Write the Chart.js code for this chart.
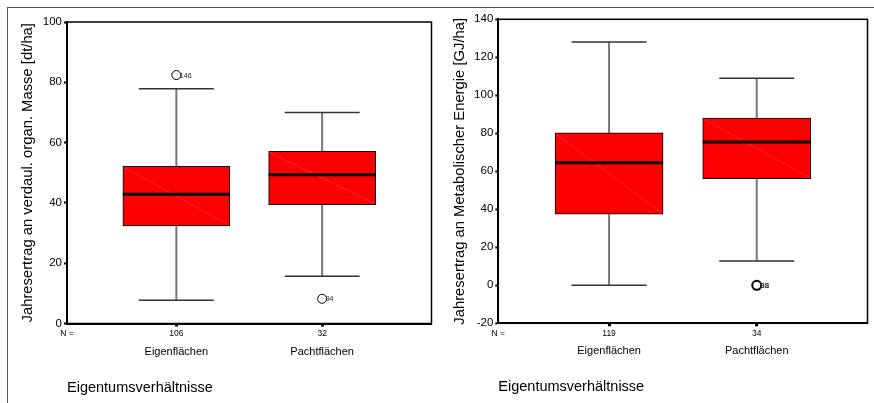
<!DOCTYPE html>
<html>
<head>
<meta charset="utf-8">
<script src="https://cdn.jsdelivr.net/npm/chart.js@4/dist/chart.umd.min.js"></script>
<style>
body{margin:0;background:#fff;}
#wrap{position:relative;width:874px;height:403px;overflow:hidden;}
#rahmen{position:absolute;left:7px;top:7px;width:900px;height:420px;border-top:1px solid #555;border-left:1px solid #555;}
canvas{position:absolute;top:0;}
</style>
</head>
<body>
<div id="wrap">
<div id="rahmen"></div>
<canvas id="graficaMasse" width="437" height="403" style="left:0"></canvas>
<canvas id="graficaEnergie" width="437" height="403" style="left:437px"></canvas>
</div>
<script>
var categorias = ['Eigenflächen', 'Pachtflächen'];

// Jahresertrag an verdaul. organ. Masse [dt/ha]
var masseN = [106, 32];
var masseMin = [7.7, 15.7];
var masseQ1 = [32.4, 39.4];
var masseMedian = [42.9, 49.3];
var masseQ3 = [52.1, 57.1];
var masseMax = [77.9, 70.0];
var masseAusreisserCat = [0, 1];
var masseAusreisserWert = [82.4, 8.2];
var masseAusreisserFall = ['146', '94'];

// Jahresertrag an Metabolischer Energie [GJ/ha]
var energieN = [119, 34];
var energieMin = [0, 12.8];
var energieQ1 = [37.4, 56.1];
var energieMedian = [64.5, 75.4];
var energieQ3 = [80.2, 88.0];
var energieMax = [128, 109];
var energieAusreisserCat = [1];
var energieAusreisserWert = [0];
var energieAusreisserFall = ['88'];

var fuente = 'Liberation Sans, Arial, sans-serif';

var boxplotLineas = {
  id: 'boxplotLineas',
  beforeDatasetsDraw: function(chart, args, o) {
    var ctx = chart.ctx, x = chart.scales.x, y = chart.scales.y;
    ctx.save();
    for (var i = 0; i < o.median.length; i++) {
      var px = x.getPixelForValue(i);
      ctx.strokeStyle = '#777';
      ctx.lineWidth = 2;
      ctx.beginPath();
      ctx.moveTo(px, y.getPixelForValue(o.q3[i]));
      ctx.lineTo(px, y.getPixelForValue(o.max[i]));
      ctx.moveTo(px, y.getPixelForValue(o.q1[i]));
      ctx.lineTo(px, y.getPixelForValue(o.min[i]));
      ctx.stroke();
      ctx.strokeStyle = '#333';
      ctx.lineWidth = 1.5;
      ctx.beginPath();
      ctx.moveTo(px - o.cap / 2, y.getPixelForValue(o.max[i]));
      ctx.lineTo(px + o.cap / 2, y.getPixelForValue(o.max[i]));
      ctx.moveTo(px - o.cap / 2, y.getPixelForValue(o.min[i]));
      ctx.lineTo(px + o.cap / 2, y.getPixelForValue(o.min[i]));
      ctx.stroke();
    }
    ctx.restore();
  },
  afterDatasetsDraw: function(chart, args, o) {
    var ctx = chart.ctx, x = chart.scales.x, y = chart.scales.y;
    var area = chart.chartArea;
    var cajas = chart.getDatasetMeta(0).data;
    ctx.save();
    for (var i = 0; i < cajas.length; i++) {
      var c = cajas[i].getProps(['x', 'y', 'base', 'width'], true);
      var l = c.x - c.width / 2, r = c.x + c.width / 2;
      // faint diagonal
      ctx.strokeStyle = 'rgba(255,150,150,0.55)';
      ctx.lineWidth = 0.5;
      ctx.beginPath();
      ctx.moveTo(l + 1, c.y + 1);
      ctx.lineTo(r - 1, c.base - 1);
      ctx.stroke();
      // median
      var my = y.getPixelForValue(o.median[i]);
      ctx.strokeStyle = '#000';
      ctx.lineWidth = 3;
      ctx.beginPath();
      ctx.moveTo(l, my);
      ctx.lineTo(r, my);
      ctx.stroke();
    }
    // outlier labels
    ctx.fillStyle = '#222';
    ctx.textBaseline = 'middle';
    ctx.textAlign = 'left';
    for (var j = 0; j < o.fall.length; j++) {
      ctx.font = (o.fettig ? 'bold 8px ' : '7px ') + fuente;
      ctx.fillText(o.fall[j], x.getPixelForValue(o.fallCat[j]) + 3.5, y.getPixelForValue(o.fallWert[j]) + 0.5);
    }
    // frame of the plot
    ctx.strokeStyle = '#000';
    ctx.lineWidth = 1.5;
    ctx.strokeRect(area.left, area.top, area.right - area.left, area.bottom - area.top);
    // N = and category names
    ctx.fillStyle = '#000';
    ctx.textAlign = 'center';
    ctx.font = '8.5px ' + fuente;
    ctx.fillText('N =', area.left, area.bottom + 10.5);
    ctx.font = '11px ' + fuente;
    for (var k = 0; k < categorias.length; k++) {
      ctx.fillText(categorias[k], x.getPixelForValue(k), area.bottom + 28);
    }
    ctx.restore();
  }
};

function crearBoxplot(canvasId, d) {
  var miCanvas = document.getElementById(canvasId).getContext('2d');
  var cajas = [];
  var puntos = [];
  for (var i = 0; i < categorias.length; i++) {
    cajas.push({x: i, y: [d.q1[i], d.q3[i]]});
  }
  for (var j = 0; j < d.fallWert.length; j++) {
    puntos.push({x: d.fallCat[j], y: d.fallWert[j]});
  }

  return new Chart(miCanvas, {
    type: 'bar',
    data: {
      datasets: [
        {
          data: cajas,
          backgroundColor: '#ff0000',
          borderColor: '#000',
          borderWidth: 1,
          borderSkipped: false,
          barThickness: d.ancho
        },
        {
          type: 'scatter',
          data: puntos,
          pointRadius: 4.5,
          pointHoverRadius: 4.5,
          pointBackgroundColor: '#fff',
          pointBorderColor: '#000',
          pointBorderWidth: d.fettig ? 2 : 1
        }
      ]
    },
    options: {
      responsive: false,
      animation: false,
      events: [],
      layout: {padding: {left: d.padLeft, top: d.padTop, right: d.padRight, bottom: 0}},
      plugins: {
        legend: {display: false},
        tooltip: {enabled: false},
        boxplotLineas: {
          min: d.min, max: d.max, q1: d.q1, q3: d.q3, median: d.median,
          cap: 75, fall: d.fall, fallCat: d.fallCat, fallWert: d.fallWert, fettig: d.fettig
        }
      },
      scales: {
        x: {
          type: 'linear',
          min: -0.75,
          max: 1.75,
          offset: false,
          afterBuildTicks: function(scale) {
            scale.ticks = categorias.map(function(c, i) { return {value: i}; });
          },
          afterFit: function(scale) { scale.height = d.xHeight; },
          ticks: {
            autoSkip: false,
            maxRotation: 0,
            padding: 2,
            color: '#000',
            font: {family: fuente, size: 8.5},
            callback: function(v, idx) { return String(d.n[idx]); }
          },
          grid: {display: true, offset: false, drawOnChartArea: false, drawTicks: true, tickLength: 3, tickWidth: 3, tickColor: '#000'},
          border: {display: true, color: '#000', width: 2},
          title: {
            display: true,
            text: 'Eigentumsverhältnisse',
            align: 'start',
            color: '#000',
            font: {family: fuente, size: 14.5},
            padding: {top: 0, bottom: d.titlePad}
          }
        },
        y: {
          min: d.yMin,
          max: d.yMax,
          afterFit: function(scale) { scale.width = d.yWidth; },
          ticks: {
            stepSize: 20,
            padding: 2,
            color: '#000',
            font: {family: fuente, size: 11.5}
          },
          grid: {display: true, drawOnChartArea: false, drawTicks: true, tickLength: 3, tickWidth: 2, tickColor: '#000'},
          border: {display: true, color: '#000', width: 2},
          title: {
            display: true,
            text: d.titulo,
            color: '#000',
            font: {family: fuente, size: 14.8}
          }
        }
      }
    },
    plugins: [boxplotLineas]
  });
}

var graficaMasse = crearBoxplot('graficaMasse', {
  n: masseN, min: masseMin, q1: masseQ1, median: masseMedian, q3: masseQ3, max: masseMax,
  fallCat: masseAusreisserCat, fallWert: masseAusreisserWert, fall: masseAusreisserFall, fettig: false,
  titulo: 'Jahresertrag an verdaul. organ. Masse [dt/ha]',
  yMin: 0, yMax: 100,
  ancho: 107, padLeft: 15, padTop: 22, padRight: 3, yWidth: 52, xHeight: 79.5, titlePad: 6
});

var graficaEnergie = crearBoxplot('graficaEnergie', {
  n: energieN, min: energieMin, q1: energieQ1, median: energieMedian, q3: energieQ3, max: energieMax,
  fallCat: energieAusreisserCat, fallWert: energieAusreisserWert, fall: energieAusreisserFall, fettig: true,
  titulo: 'Jahresertrag an Metabolischer Energie [GJ/ha]',
  yMin: -20, yMax: 140,
  ancho: 108, padLeft: 10, padTop: 19.3, padRight: 3.3, yWidth: 51.3, xHeight: 79.7, titlePad: 7
});
</script>
</body>
</html>
